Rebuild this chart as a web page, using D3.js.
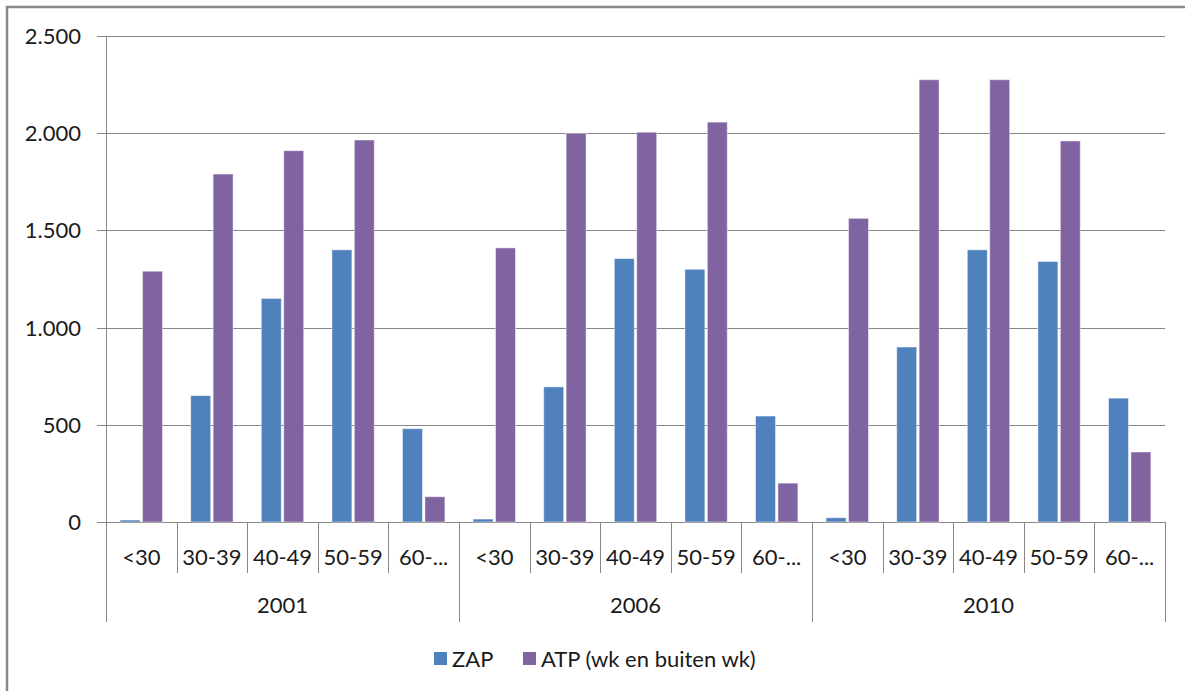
<!DOCTYPE html>
<html>
<head>
<meta charset="utf-8">
<script src="https://cdn.jsdelivr.net/npm/d3@7"></script>
<style>
  body { margin: 0; background: #fff; }
  text { font-family: Lato, "Open Sans", sans-serif; fill: #1a1a1a; }
</style>
</head>
<body>
<div id="chart"></div>
<script>
// data
var years = ["2001", "2006", "2010"];
var ages = ["<30", "30-39", "40-49", "50-59", "60-..."];
var seriesNames = ["ZAP", "ATP (wk en buiten wk)"];
var zap = [10, 650, 1150, 1400, 480,
           15, 695, 1355, 1300, 545,
           22, 900, 1400, 1340, 637];
var atp = [1290, 1790, 1910, 1965, 130,
           1410, 2000, 2005, 2057, 200,
           1562, 2275, 2275, 1960, 360];
var yTicks = [0, 500, 1000, 1500, 2000, 2500];
var colors = ["#4F81BD", "#8064A2"];

var W = 1185, H = 691;
var plotLeft = 106, plotRight = 1165, plotTop = 36, base = 522;
var fs = "22px";

var svg = d3.select("#chart").append("svg")
  .attr("width", W).attr("height", H);

// outer frame
svg.append("rect")
  .attr("x", 7).attr("y", 7)
  .attr("width", W).attr("height", H)
  .attr("fill", "none").attr("stroke", "#888").attr("stroke-width", 2.5);

// categories: one per (year, age)
var cats = [];
years.forEach(function(yr, i) {
  ages.forEach(function(a, j) { cats.push({year: yr, age: a, idx: i * ages.length + j}); });
});

var x0 = d3.scaleBand().domain(d3.range(cats.length)).range([plotLeft, plotRight]);
var bw = x0.bandwidth();
var x1 = d3.scaleBand().domain([0, 1]).range([0.2 * bw, 0.8 * bw]).paddingInner(0.11);

var y = d3.scaleLinear().domain([0, 2500]).range([base, plotTop]);

// gridlines + y labels
svg.append("g").selectAll("line").data(yTicks).join("line")
  .attr("x1", plotLeft - 9).attr("x2", plotRight)
  .attr("y1", function(d) { return Math.round(y(d)) + 0.5; })
  .attr("y2", function(d) { return Math.round(y(d)) + 0.5; })
  .attr("stroke", "#878787").attr("stroke-width", 1);

svg.append("g").selectAll("text").data(yTicks).join("text")
  .attr("x", 81).attr("y", function(d) { return y(d); })
  .attr("dy", "0.36em")
  .attr("text-anchor", "end")
  .style("font-size", fs)
  .text(function(d) { return d3.format(",")(d).replace(",", "."); });

// bars
var bars = svg.append("g");
cats.forEach(function(c) {
  [zap[c.idx], atp[c.idx]].forEach(function(v, s) {
    bars.append("rect")
      .attr("x", x0(c.idx) + x1(s))
      .attr("y", y(v))
      .attr("width", x1.bandwidth())
      .attr("height", base - y(v))
      .attr("fill", colors[s])
      .attr("stroke", "#fff").attr("stroke-opacity", 0.45).attr("stroke-width", 1);
  });
});

// axis lines
var ax = svg.append("g").attr("stroke", "#878787").attr("stroke-width", 1);
ax.append("line").attr("x1", plotLeft + 0.5).attr("x2", plotLeft + 0.5).attr("y1", plotTop).attr("y2", 622);
d3.range(cats.length + 1).forEach(function(i) {
  var xx = Math.round(plotLeft + i * bw) + 0.5;
  var groupEdge = i % ages.length === 0;
  ax.append("line").attr("x1", xx).attr("x2", xx)
    .attr("y1", base).attr("y2", groupEdge ? 622 : 573);
});

// category labels
svg.append("g").selectAll("text").data(cats).join("text")
  .attr("x", function(d) { return x0(d.idx) + bw / 2; })
  .attr("y", 557).attr("dy", "0.36em")
  .attr("text-anchor", "middle")
  .style("font-size", fs)
  .text(function(d) { return d.age; });

svg.append("g").selectAll("text").data(years).join("text")
  .attr("x", function(d, i) { return plotLeft + (i + 0.5) * bw * ages.length; })
  .attr("y", 605).attr("dy", "0.36em")
  .attr("text-anchor", "middle")
  .style("font-size", fs)
  .text(function(d) { return d; });

// legend
var legX = [434, 523];
var leg = svg.append("g");
seriesNames.forEach(function(n, i) {
  leg.append("rect").attr("x", legX[i]).attr("y", 652)
    .attr("width", 13).attr("height", 13).attr("fill", colors[i]);
  leg.append("text").attr("x", legX[i] + 18).attr("y", 659).attr("dy", "0.36em")
    .style("font-size", fs).text(n);
});
</script>
</body>
</html>
